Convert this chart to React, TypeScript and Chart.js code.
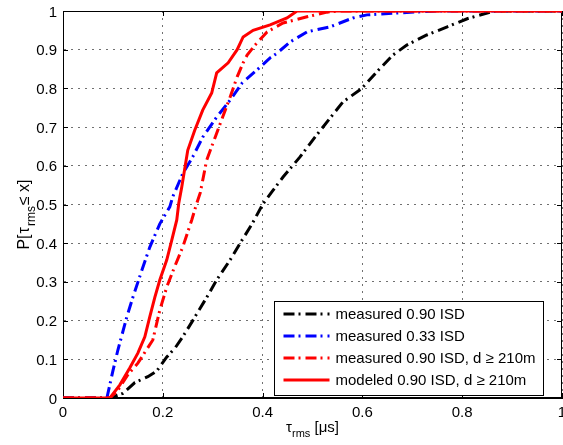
import { useEffect, useRef } from 'react';
import { Chart, registerables } from 'chart.js';

Chart.register(...registerables);

const FONT = "'Liberation Sans', Arial, Helvetica, sans-serif";

// Tick values and labels
const xTickValues = [0, 0.2, 0.4, 0.6, 0.8, 1];
const xTickLabels = ['0', '0.2', '0.4', '0.6', '0.8', '1'];
const yTickValues = [0, 0.1, 0.2, 0.3, 0.4, 0.5, 0.6, 0.7, 0.8, 0.9, 1];
const yTickLabels = ['0', '0.1', '0.2', '0.3', '0.4', '0.5', '0.6', '0.7', '0.8', '0.9', '1'];

// Series labels
const seriesLabels = [
  'measured 0.90 ISD',
  'measured 0.33 ISD',
  'measured 0.90 ISD, d \u2265 210m',
  'modeled 0.90 ISD, d \u2265 210m',
];

// measured 0.90 ISD
const meas090X = [0, 0.094, 0.12, 0.144, 0.17, 0.188, 0.208, 0.225, 0.24, 0.26, 0.288, 0.308, 0.335, 0.355, 0.379, 0.4, 0.42, 0.441, 0.475, 0.505, 0.535, 0.561, 0.599, 0.629, 0.661, 0.689, 0.729, 0.77, 0.81, 0.85, 0.865, 1];
const meas090Y = [0, 0, 0.012, 0.04, 0.055, 0.07, 0.106, 0.13, 0.158, 0.2, 0.26, 0.305, 0.357, 0.4, 0.45, 0.5, 0.535, 0.571, 0.623, 0.674, 0.723, 0.765, 0.8, 0.843, 0.886, 0.912, 0.938, 0.959, 0.98, 0.995, 1, 1];

// measured 0.33 ISD
const meas033X = [0, 0.088, 0.1, 0.11, 0.128, 0.14, 0.158, 0.174, 0.194, 0.214, 0.22, 0.24, 0.26, 0.28, 0.308, 0.335, 0.359, 0.395, 0.415, 0.429, 0.455, 0.489, 0.535, 0.581, 0.609, 0.67, 0.75, 1];
const meas033Y = [0, 0, 0.07, 0.124, 0.21, 0.26, 0.33, 0.39, 0.45, 0.494, 0.52, 0.58, 0.623, 0.674, 0.726, 0.77, 0.814, 0.855, 0.879, 0.891, 0.92, 0.946, 0.959, 0.982, 0.99, 0.995, 1, 1];

// measured 0.90 ISD, d >= 210m
const measFarX = [0, 0.094, 0.11, 0.13, 0.15, 0.16, 0.18, 0.194, 0.208, 0.224, 0.24, 0.258, 0.268, 0.275, 0.288, 0.305, 0.32, 0.335, 0.349, 0.361, 0.369, 0.385, 0.409, 0.441, 0.489, 0.529, 0.55, 1];
const measFarY = [0, 0, 0.02, 0.06, 0.09, 0.11, 0.15, 0.227, 0.287, 0.34, 0.39, 0.46, 0.503, 0.53, 0.615, 0.674, 0.726, 0.778, 0.83, 0.866, 0.886, 0.912, 0.946, 0.969, 0.985, 0.997, 1, 1];

// modeled 0.90 ISD, d >= 210m
const modelX = [0, 0.094, 0.114, 0.134, 0.15, 0.164, 0.174, 0.184, 0.194, 0.208, 0.218, 0.228, 0.232, 0.238, 0.25, 0.264, 0.28, 0.298, 0.308, 0.331, 0.349, 0.361, 0.381, 0.415, 0.449, 0.469, 1];
const modelY = [0, 0, 0.034, 0.078, 0.116, 0.158, 0.21, 0.26, 0.305, 0.357, 0.408, 0.46, 0.503, 0.545, 0.64, 0.692, 0.744, 0.788, 0.84, 0.866, 0.9, 0.933, 0.95, 0.964, 0.982, 1, 1];

const toPoints = (xs: number[], ys: number[]) => xs.map((x, i) => ({ x, y: ys[i] }));

const DASH_DOT = [11, 4, 2, 5];

const framePlugin = {
  id: 'frame',
  beforeDatasetsDraw(chart: any) {
    const { ctx, chartArea: a, scales } = chart;
    ctx.save();
    ctx.strokeStyle = '#000';
    ctx.lineWidth = 1;
    ctx.setLineDash([]);
    ctx.strokeRect(Math.round(a.left) + 0.5, Math.round(a.top) + 0.5, Math.round(a.right - a.left) - 1, Math.round(a.bottom - a.top) - 1);
    const tl = 5;
    ctx.beginPath();
    xTickValues.forEach((v) => {
      const px = Math.round(scales.x.getPixelForValue(v)) + 0.5;
      ctx.moveTo(px, a.bottom);
      ctx.lineTo(px, a.bottom - tl);
      ctx.moveTo(px, a.top);
      ctx.lineTo(px, a.top + tl);
    });
    yTickValues.forEach((v) => {
      const py = Math.round(scales.y.getPixelForValue(v)) + 0.5;
      ctx.moveTo(a.left, py);
      ctx.lineTo(a.left + tl, py);
      ctx.moveTo(a.right, py);
      ctx.lineTo(a.right - tl, py);
    });
    ctx.stroke();
    ctx.restore();
  },
};

const tickLabelPlugin = {
  id: 'tickLabels',
  afterDraw(chart: any) {
    const { ctx, chartArea: a, scales } = chart;
    ctx.save();
    ctx.fillStyle = '#000';
    ctx.font = `15px ${FONT}`;
    ctx.textBaseline = 'alphabetic';
    ctx.textAlign = 'center';
    xTickValues.forEach((v, i) => {
      ctx.fillText(xTickLabels[i], scales.x.getPixelForValue(v), a.bottom + 19);
    });
    ctx.textAlign = 'right';
    yTickValues.forEach((v, i) => {
      ctx.fillText(yTickLabels[i], a.left - 6, scales.y.getPixelForValue(v) + 5.5);
    });
    ctx.restore();
  },
};

function drawParts(ctx: CanvasRenderingContext2D, parts: { t: string; sub?: boolean; gap?: number }[], cx: number, baseline: number, size: number) {
  const main = `${size}px ${FONT}`;
  const small = `${Math.round(size * 0.73)}px ${FONT}`;
  let total = 0;
  parts.forEach((p) => {
    ctx.font = p.sub ? small : main;
    total += ctx.measureText(p.t).width + (p.gap || 0);
  });
  let x = cx - total / 2;
  parts.forEach((p) => {
    ctx.font = p.sub ? small : main;
    ctx.fillText(p.t, x, p.sub ? baseline + size * 0.35 : baseline);
    x += ctx.measureText(p.t).width + (p.gap || 0);
  });
}

const titlesPlugin = {
  id: 'titles',
  afterDraw(chart: any) {
    const { ctx, chartArea: a } = chart;
    ctx.save();
    ctx.fillStyle = '#000';
    ctx.textAlign = 'left';
    ctx.textBaseline = 'alphabetic';
    drawParts(ctx, [{ t: '\u03c4' }, { t: 'rms', sub: true }, { t: ' [\u03bcs]' }], (a.left + a.right) / 2, 432, 15);
    ctx.translate(29, (a.top + a.bottom) / 2 + 10);
    ctx.rotate(-Math.PI / 2);
    drawParts(ctx, [{ t: 'P[', gap: 1 }, { t: '\u03c4', gap: 1 }, { t: 'rms', sub: true, gap: 1 }, { t: '\u2264 x]' }], 0, 0, 16);
    ctx.restore();
  },
};

const legendPlugin = {
  id: 'boxLegend',
  afterDraw(chart: any) {
    const { ctx, chartArea: a } = chart;
    const w = 269;
    const h = 94;
    const x0 = Math.round(a.right - 19 - w) + 0.5;
    const y0 = Math.round(a.bottom - 3 - h) + 0.5;
    ctx.save();
    ctx.fillStyle = '#fff';
    ctx.fillRect(x0, y0, w, h);
    ctx.strokeStyle = '#000';
    ctx.lineWidth = 1;
    ctx.setLineDash([]);
    ctx.strokeRect(x0, y0, w, h);
    ctx.font = `15px ${FONT}`;
    ctx.textBaseline = 'middle';
    ctx.textAlign = 'left';
    chart.data.datasets.forEach((ds: any, i: number) => {
      const cy = y0 + 12.5 + i * 22;
      ctx.strokeStyle = ds.borderColor;
      ctx.lineWidth = ds.borderWidth;
      ctx.setLineDash(ds.borderDash || []);
      ctx.beginPath();
      ctx.moveTo(x0 + 9, cy);
      ctx.lineTo(x0 + 55, cy);
      ctx.stroke();
      ctx.setLineDash([]);
      ctx.fillStyle = '#000';
      ctx.fillText(ds.label, x0 + 61, cy + 1);
    });
    ctx.restore();
  },
};

export default function App() {
  const ref = useRef<HTMLCanvasElement>(null);
  useEffect(() => {
    if (!ref.current) return;
    const common = { pointRadius: 0, tension: 0, fill: false, borderWidth: 3, borderCapStyle: 'butt' };
    const chart = new Chart(ref.current, {
      type: 'line',
      data: {
        datasets: [
          { ...common, label: seriesLabels[0], data: toPoints(meas090X, meas090Y), borderColor: '#000000', borderDash: DASH_DOT, order: 3 },
          { ...common, label: seriesLabels[1], data: toPoints(meas033X, meas033Y), borderColor: '#0000ff', borderDash: DASH_DOT, order: 2 },
          { ...common, label: seriesLabels[2], data: toPoints(measFarX, measFarY), borderColor: '#ff0000', borderDash: DASH_DOT, order: 1 },
          { ...common, label: seriesLabels[3], data: toPoints(modelX, modelY), borderColor: '#ff0000', borderDash: [], order: 0 },
        ] as any,
      },
      options: {
        animation: false,
        responsive: false,
        events: [],
        layout: { padding: { left: 0, top: 11, right: 1, bottom: 0 } },
        plugins: { legend: { display: false }, tooltip: { enabled: false }, title: { display: false } },
        scales: {
          x: {
            type: 'linear',
            min: 0,
            max: 1,
            afterBuildTicks: (s: any) => { s.ticks = xTickValues.map((v) => ({ value: v })); },
            afterFit: (s: any) => { s.height = 47; },
            ticks: { display: false },
            grid: { color: '#707070', lineWidth: 1, drawTicks: false },
            border: { display: true, color: '#000', width: 1, dash: [2, 5] },
          },
          y: {
            type: 'linear',
            min: 0,
            max: 1,
            afterBuildTicks: (s: any) => { s.ticks = yTickValues.map((v) => ({ value: v })); },
            afterFit: (s: any) => { s.width = 63; },
            ticks: { display: false },
            grid: { color: '#707070', lineWidth: 1, drawTicks: false },
            border: { display: true, color: '#000', width: 1, dash: [2, 5] },
          },
        },
      } as any,
      plugins: [framePlugin, tickLabelPlugin, titlesPlugin, legendPlugin],
    });
    return () => chart.destroy();
  }, []);
  return (
    <div style={{ position: 'fixed', left: 0, top: 0, width: 563, height: 445, background: '#fff' }}>
      <canvas ref={ref} width={563} height={445} style={{ display: 'block' }} />
    </div>
  );
}
